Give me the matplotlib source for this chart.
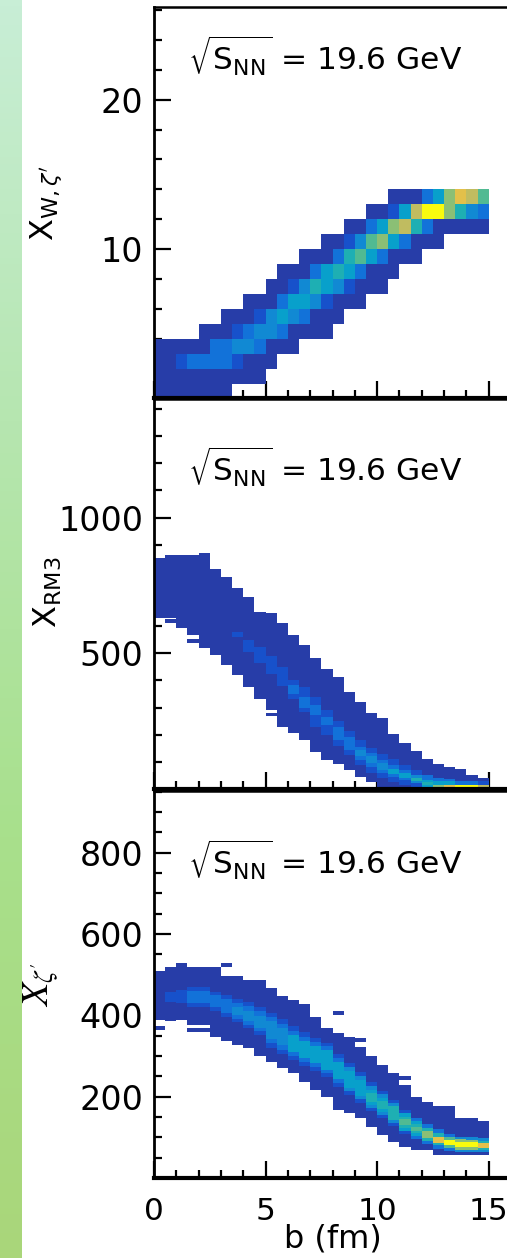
import numpy as np
import matplotlib.pyplot as plt
from matplotlib.colors import LinearSegmentedColormap, Normalize
from matplotlib.ticker import FixedLocator, MultipleLocator

# impact parameter bins (fm), 30 bins of 0.5 fm
b_edges = np.arange(0, 15.5, 0.5)

# colour steps seen in the picture -> relative bin content (max = 100)
count_of = {'.': 0, '1': 5, '2': 10, '3': 20, '4': 28, '5': 36, '6': 45,
            '7': 55, '8': 63, '9': 72, 'A': 80, 'B': 100}

# X_{W,zeta'} panel: unit bins in X, rows from 13-14 down to 0-1, (first b bin, cells)
xw_rows = [
    (21, "111358A97"),
    (19, "11259BB8643"),
    (17, "1135896311111"),
    (15, "11247853111"),
    (13, "11136753111"),
    (11, "11135653111"),
    (10, "11246542111"),
    (8, "11135542111"),
    (6, "11124543111"),
    (4, "111234431111"),
    (0, "1111133443111"),
    (0, "11233332111"),
    (0, "1111111111"),
    (0, "1111111"),
]

# X_RM3 panel: filled range per b bin, stray single bins, brighter core (bin, lo, hi, count)
rm3_lo = [629, 630, 592, 568, 518, 494, 457, 420, 377, 330, 291, 230, 205, 181, 138,
          107, 92, 70, 43, 27, 0, 0, 0, 0, 0, 0, 0, 0, 0, 0]
rm3_hi = [850, 862, 862, 862, 871, 810, 780, 740, 709, 654, 650, 613, 568, 531, 482,
          441, 414, 359, 322, 279, 260, 201, 171, 141, 109, 92, 80, 72, 52, 39]
rm3_stray = [(1, 613, 625), (3, 539, 551), (10, 270, 280)]
rm3_core = [
    (7, 560, 580, 10), (8, 505, 550, 10), (9, 465, 525, 10), (10, 425, 490, 10),
    (11, 380, 450, 10), (12, 330, 400, 10), (12, 350, 385, 20),
    (13, 285, 377, 10), (13, 300, 340, 20), (14, 230, 340, 10), (14, 273, 310, 20),
    (15, 200, 290, 10), (15, 235, 266, 20), (16, 160, 250, 10), (16, 180, 230, 20),
    (17, 125, 215, 10), (17, 143, 193, 20),
    (18, 90, 180, 10), (18, 107, 156, 20), (18, 120, 145, 28),
    (19, 60, 150, 10), (19, 82, 131, 20), (19, 95, 120, 28),
    (20, 40, 130, 10), (20, 58, 107, 20), (20, 70, 95, 28),
    (21, 25, 110, 10), (21, 45, 89, 20), (21, 55, 75, 36),
    (22, 15, 90, 10), (22, 33, 70, 20), (22, 40, 60, 36),
    (23, 5, 70, 10), (23, 21, 52, 28), (23, 28, 42, 45),
    (24, 0, 50, 20), (24, 9, 33, 36), (24, 15, 25, 45),
    (25, 0, 42, 20), (25, 16, 28, 36), (25, 0, 16, 63),
    (26, 0, 36, 20), (26, 16, 28, 36), (26, 0, 16, 80),
    (27, 0, 30, 20), (27, 0, 16, 100),
    (28, 0, 28, 20), (28, 0, 16, 100),
    (29, 0, 28, 10), (29, 0, 16, 72),
]

# X_zeta' panel
zp_lo = [389, 385, 389, 377, 377, 348, 336, 327, 319, 299, 286, 270, 258, 237, 217,
         200, 167, 159, 147, 126, 106, 89, 77, 69, 69, 57, 57, 57, 57, 57]
zp_hi = [508, 518, 529, 518, 518, 518, 496, 496, 488, 488, 467, 447, 438, 428, 395,
         369, 356, 348, 323, 299, 278, 258, 229, 200, 188, 176, 176, 147, 147, 139]
zp_stray = [(0, 365, 375), (3, 358, 368), (4, 358, 368), (6, 518, 530),
            (16, 400, 410), (18, 335, 345), (22, 240, 250)]
zp_core = [
    (1, 432, 458, 10), (2, 430, 462, 10),
    (3, 420, 470, 10), (3, 430, 460, 20), (4, 420, 470, 10), (4, 430, 460, 20),
    (5, 410, 458, 10), (5, 420, 450, 20), (6, 396, 450, 10), (6, 405, 440, 20),
    (7, 383, 440, 10), (7, 392, 430, 20), (7, 400, 420, 28),
    (8, 368, 432, 10), (8, 377, 422, 20), (8, 385, 412, 28),
    (9, 352, 420, 10), (9, 362, 410, 20), (9, 370, 398, 28),
    (10, 320, 405, 10), (10, 332, 395, 20), (10, 342, 385, 28),
    (11, 305, 390, 10), (11, 316, 378, 20), (11, 326, 368, 28),
    (12, 290, 374, 10), (12, 300, 362, 20), (12, 310, 352, 36),
    (13, 275, 360, 10), (13, 285, 348, 20), (13, 295, 338, 36),
    (14, 262, 345, 10), (14, 272, 335, 20), (14, 282, 325, 36),
    (15, 249, 332, 10), (15, 258, 325, 20), (15, 266, 316, 36),
    (16, 225, 305, 10), (16, 234, 295, 20), (16, 243, 285, 36),
    (17, 205, 282, 10), (17, 214, 272, 28), (17, 222, 262, 36),
    (18, 185, 260, 10), (18, 194, 250, 28), (18, 202, 240, 36),
    (19, 165, 235, 10), (19, 173, 226, 28), (19, 180, 217, 36), (19, 188, 208, 45),
    (20, 148, 215, 10), (20, 155, 206, 28), (20, 162, 198, 36), (20, 170, 190, 45),
    (21, 128, 192, 10), (21, 136, 184, 28), (21, 143, 176, 45),
    (22, 108, 168, 10), (22, 116, 160, 36), (22, 124, 150, 45), (22, 130, 144, 55),
    (23, 95, 148, 20), (23, 103, 140, 36), (23, 110, 132, 45), (23, 115, 126, 55),
    (24, 84, 132, 20), (24, 92, 124, 45), (24, 99, 116, 63),
    (25, 72, 120, 20), (25, 80, 110, 45), (25, 86, 102, 80),
    (26, 66, 108, 20), (26, 74, 100, 55), (26, 80, 93, 100),
    (27, 63, 102, 28), (27, 70, 95, 63), (27, 76, 89, 100),
    (28, 63, 100, 28), (28, 70, 93, 63), (28, 76, 88, 100),
    (29, 63, 98, 28), (29, 70, 92, 45), (29, 74, 87, 80),
]

energy = r"$\sqrt{\mathrm{S}_{\mathrm{NN}}}$ = 19.6 GeV"

# ROOT kBird palette
bird = LinearSegmentedColormap.from_list("bird", [
    (0.2082, 0.1664, 0.5293), (0.0592, 0.3599, 0.8684), (0.0780, 0.5041, 0.8385),
    (0.0232, 0.6419, 0.7914), (0.1802, 0.7178, 0.6425), (0.5301, 0.7492, 0.4662),
    (0.8186, 0.7328, 0.3499), (0.9956, 0.7862, 0.1968), (0.9764, 0.9832, 0.0539)])
norm = Normalize(0, 100)


def band_grid(lo, hi, stray, core, ymax, step=1.0):
    y_edges = np.arange(0, ymax + step, step)
    yc = y_edges[:-1] + step / 2
    z = np.zeros((len(yc), len(b_edges) - 1))
    for j in range(z.shape[1]):
        z[(yc >= lo[j]) & (yc < hi[j]), j] = 5
    for j, a, b in stray:
        z[(yc >= a) & (yc < b), j] = 5
    for j, a, b, c in core:
        z[(yc >= a) & (yc < b), j] = c
    return y_edges, np.ma.masked_equal(z, 0)


W, H = 507, 1258
fig = plt.figure(figsize=(W / 100, H / 100), dpi=100)

# green slide border on the left
strip = fig.add_axes([0, 0, 22 / W, 1])
shades = np.array([[200, 238, 214], [182, 230, 176], [168, 224, 140], [170, 214, 122]]) / 255
t = np.linspace(0, 1, 200)
grad = np.stack([np.interp(t, np.linspace(0, 1, 4), shades[:, k]) for k in range(3)], axis=1)
strip.imshow(grad[:, None, :], aspect="auto")
strip.axis("off")


def px_axes(y0, y1):
    return fig.add_axes([154 / W, 1 - y1 / H, (511 - 154) / W, (y1 - y0) / H])


def style(ax, ymax, yticks, yminor, xlabels):
    ax.set_xlim(0, 16)
    ax.set_ylim(0, ymax)
    ax.xaxis.set_major_locator(FixedLocator([0, 5, 10, 15]))
    ax.xaxis.set_minor_locator(MultipleLocator(1))
    ax.yaxis.set_major_locator(FixedLocator(yticks))
    ax.yaxis.set_minor_locator(MultipleLocator(yminor))
    ax.tick_params(which="both", direction="in", width=1.6, labelsize=24)
    ax.tick_params(which="major", length=12)
    ax.tick_params(which="minor", length=6)
    ax.tick_params(axis="y", pad=8)
    ax.tick_params(axis="x", pad=14, labelbottom=xlabels, labelsize=22.5)
    ax.spines["right"].set_visible(False)
    ax.spines["left"].set_linewidth(2.0)
    ax.spines["bottom"].set_linewidth(3.0)
    ax.spines["top"].set_linewidth(1.8)
    ax.set_axisbelow(True)


# top panel
ax1 = px_axes(7, 398.5)
z1 = np.zeros((len(xw_rows), len(b_edges) - 1))
for i, (start, cells) in enumerate(xw_rows):
    for k, ch in enumerate(cells):
        z1[len(xw_rows) - 1 - i, start + k] = count_of[ch]
ax1.pcolormesh(b_edges, np.arange(0, len(xw_rows) + 1), np.ma.masked_equal(z1, 0),
               cmap=bird, norm=norm)
style(ax1, 26.2, [10, 20], 2, False)

# middle panel
ax2 = px_axes(399, 789)
y2, z2 = band_grid(rm3_lo, rm3_hi, rm3_stray, rm3_core, 1437)
ax2.pcolormesh(b_edges, y2, z2, cmap=bird, norm=norm)
style(ax2, 1437, [500, 1000], 100, False)

# bottom panel
ax3 = px_axes(791, 1178)
y3, z3 = band_grid(zp_lo, zp_hi, zp_stray, zp_core, 952)
ax3.pcolormesh(b_edges, y3, z3, cmap=bird, norm=norm)
style(ax3, 952, [200, 400, 600, 800], 50, True)

# energy labels
for ybase in (71, 482, 875):
    fig.text(188 / W, 1 - ybase / H, energy, fontsize=22.5, va="baseline", ha="left")

# axis titles
fig.text(46 / W, 1 - 203 / H, r"$\mathrm{X}_{\mathrm{W},\zeta^{\prime}}$",
         rotation=90, fontsize=23, ha="center", va="center")
fig.text(48 / W, 1 - 592 / H, r"$\mathrm{X}_{\mathrm{RM3}}$",
         rotation=90, fontsize=23, ha="center", va="center")
fig.text(41 / W, 1 - 985 / H, r"$X_{\zeta'}$", math_fontfamily="stix",
         rotation=90, fontsize=27, ha="center", va="center")
fig.text(333 / W, 1 - 1248 / H, "b (fm)", fontsize=23, ha="center", va="baseline")

fig.savefig("out.png", dpi=100)
